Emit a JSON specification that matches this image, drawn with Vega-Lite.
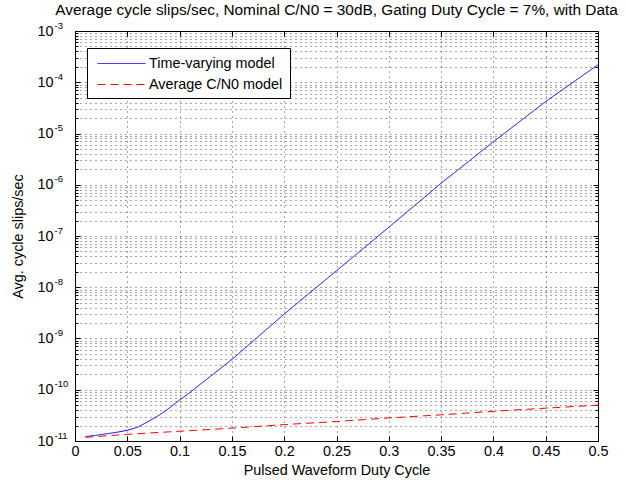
{
  "$schema": "https://vega.github.io/schema/vega-lite/v6.json",
  "width": 523,
  "height": 410,
  "autosize": {"type": "none"},
  "padding": {"left": 75, "top": 31, "right": 28, "bottom": 48},
  "background": "white",
  "config": {
    "font": "Liberation Sans",
    "view": {"stroke": null},
    "axis": {"domainColor": "black", "tickColor": "black", "labelColor": "black", "titleColor": "black", "titleFontWeight": "normal"}
  },
  "title": {"text": "Average cycle slips/sec, Nominal C/N0 = 30dB, Gating Duty Cycle = 7%, with Data", "fontSize": 15.4, "fontWeight": "normal", "color": "black", "anchor": "middle", "offset": 8, "dy": 6},
  "data": {
    "values": [
      {"series": "Time-varying model", "x": 0.01, "y": 1.22e-11},
      {"series": "Time-varying model", "x": 0.02, "y": 1.29e-11},
      {"series": "Time-varying model", "x": 0.03, "y": 1.38e-11},
      {"series": "Time-varying model", "x": 0.04, "y": 1.48e-11},
      {"series": "Time-varying model", "x": 0.05, "y": 1.62e-11},
      {"series": "Time-varying model", "x": 0.06, "y": 1.86e-11},
      {"series": "Time-varying model", "x": 0.07, "y": 2.4e-11},
      {"series": "Time-varying model", "x": 0.08, "y": 3.16e-11},
      {"series": "Time-varying model", "x": 0.09, "y": 4.37e-11},
      {"series": "Time-varying model", "x": 0.10, "y": 6.3e-11},
      {"series": "Time-varying model", "x": 0.11, "y": 8.9e-11},
      {"series": "Time-varying model", "x": 0.12, "y": 1.29e-10},
      {"series": "Time-varying model", "x": 0.13, "y": 1.86e-10},
      {"series": "Time-varying model", "x": 0.14, "y": 2.69e-10},
      {"series": "Time-varying model", "x": 0.15, "y": 3.9e-10},
      {"series": "Time-varying model", "x": 0.20, "y": 3.0e-9},
      {"series": "Time-varying model", "x": 0.25, "y": 2.1e-8},
      {"series": "Time-varying model", "x": 0.30, "y": 1.48e-7},
      {"series": "Time-varying model", "x": 0.35, "y": 1.07e-6},
      {"series": "Time-varying model", "x": 0.40, "y": 6.9e-6},
      {"series": "Time-varying model", "x": 0.45, "y": 4.2e-5},
      {"series": "Time-varying model", "x": 0.50, "y": 2.2e-4},
      {"series": "Average C/N0 model", "x": 0.01, "y": 1.18e-11},
      {"series": "Average C/N0 model", "x": 0.05, "y": 1.35e-11},
      {"series": "Average C/N0 model", "x": 0.10, "y": 1.55e-11},
      {"series": "Average C/N0 model", "x": 0.15, "y": 1.78e-11},
      {"series": "Average C/N0 model", "x": 0.20, "y": 2.09e-11},
      {"series": "Average C/N0 model", "x": 0.25, "y": 2.4e-11},
      {"series": "Average C/N0 model", "x": 0.30, "y": 2.82e-11},
      {"series": "Average C/N0 model", "x": 0.35, "y": 3.24e-11},
      {"series": "Average C/N0 model", "x": 0.40, "y": 3.8e-11},
      {"series": "Average C/N0 model", "x": 0.45, "y": 4.37e-11},
      {"series": "Average C/N0 model", "x": 0.50, "y": 5.01e-11}
    ]
  },
  "layer": [
    {
      "mark": {"type": "line", "strokeWidth": 1, "clip": true},
      "encoding": {
        "x": {
          "field": "x", "type": "quantitative",
          "scale": {"domain": [0, 0.5], "nice": false, "zero": false},
          "axis": {
            "orient": "bottom", "title": "Pulsed Waveform Duty Cycle", "titleFontSize": 14.4, "titlePadding": 6,
            "values": [0, 0.05, 0.1, 0.15, 0.2, 0.25, 0.3, 0.35, 0.4, 0.45, 0.5],
            "format": "~g", "labelFontSize": 14.4, "labelFlush": false, "labelPadding": 8,
            "tickSize": -5, "grid": true, "gridDash": [1, 4], "gridColor": "black", "gridOpacity": 0.7
          }
        },
        "y": {
          "field": "y", "type": "quantitative",
          "scale": {"type": "log", "domain": [1e-11, 1e-3], "nice": false},
          "axis": {
            "orient": "left", "title": "Avg. cycle slips/sec", "titleFontSize": 14.4, "titlePadding": 11,
            "values": [1e-11,2e-11,3e-11,4e-11,5e-11,6e-11,7e-11,8e-11,9e-11,
                       1e-10,2e-10,3e-10,4e-10,5e-10,6e-10,7e-10,8e-10,9e-10,
                       1e-9,2e-9,3e-9,4e-9,5e-9,6e-9,7e-9,8e-9,9e-9,
                       1e-8,2e-8,3e-8,4e-8,5e-8,6e-8,7e-8,8e-8,9e-8,
                       1e-7,2e-7,3e-7,4e-7,5e-7,6e-7,7e-7,8e-7,9e-7,
                       1e-6,2e-6,3e-6,4e-6,5e-6,6e-6,7e-6,8e-6,9e-6,
                       1e-5,2e-5,3e-5,4e-5,5e-5,6e-5,7e-5,8e-5,9e-5,
                       1e-4,2e-4,3e-4,4e-4,5e-4,6e-4,7e-4,8e-4,9e-4,1e-3],
            "labelExpr": "abs(log(datum.value)/LN10 - round(log(datum.value)/LN10)) < 0.001 ? '10' : ''",
            "labelFontSize": 14.4, "labelPadding": 27, "labelAlign": "right", "labelBaseline": "middle",
            "tickSize": {"condition": {"test": "abs(log(datum.value)/LN10 - round(log(datum.value)/LN10)) < 0.001", "value": -5}, "value": -3},
            "labelOverlap": false,
            "grid": true, "gridDash": [1, 4], "gridColor": "black", "gridOpacity": 0.7
          }
        },
        "color": {
          "field": "series", "type": "nominal",
          "scale": {"domain": ["Time-varying model", "Average C/N0 model"], "range": ["#0000ff", "#ff0000"]},
          "legend": {
            "title": null, "orient": "none", "legendX": 12, "legendY": 17,
            "fillColor": "white", "strokeColor": "black", "padding": 7,
            "symbolType": "M-3,0H3", "symbolSize": 256, "symbolStrokeWidth": 1, "symbolOffset": 19,
            "labelFontSize": 14.4, "labelOffset": 19, "rowPadding": 6, "labelColor": "black"
          }
        },
        "strokeDash": {
          "field": "series", "type": "nominal",
          "scale": {"domain": ["Time-varying model", "Average C/N0 model"], "range": [[1, 0], [8, 5]]},
          "legend": null
        }
      }
    },
    {
      "mark": {"type": "line", "opacity": 0},
      "encoding": {
        "x": {
          "field": "x", "type": "quantitative",
          "scale": {"domain": [0, 0.5], "nice": false, "zero": false},
          "axis": {"orient": "top", "title": null, "labels": false, "grid": false, "tickSize": -5,
                   "values": [0, 0.05, 0.1, 0.15, 0.2, 0.25, 0.3, 0.35, 0.4, 0.45, 0.5]}
        },
        "y": {
          "field": "y", "type": "quantitative",
          "scale": {"type": "log", "domain": [1e-11, 1e-3], "nice": false},
          "axis": {
            "orient": "right", "title": null, "labels": false, "grid": false,
            "values": [1e-11,2e-11,3e-11,4e-11,5e-11,6e-11,7e-11,8e-11,9e-11,
                       1e-10,2e-10,3e-10,4e-10,5e-10,6e-10,7e-10,8e-10,9e-10,
                       1e-9,2e-9,3e-9,4e-9,5e-9,6e-9,7e-9,8e-9,9e-9,
                       1e-8,2e-8,3e-8,4e-8,5e-8,6e-8,7e-8,8e-8,9e-8,
                       1e-7,2e-7,3e-7,4e-7,5e-7,6e-7,7e-7,8e-7,9e-7,
                       1e-6,2e-6,3e-6,4e-6,5e-6,6e-6,7e-6,8e-6,9e-6,
                       1e-5,2e-5,3e-5,4e-5,5e-5,6e-5,7e-5,8e-5,9e-5,
                       1e-4,2e-4,3e-4,4e-4,5e-4,6e-4,7e-4,8e-4,9e-4,1e-3],
            "tickSize": {"condition": {"test": "abs(log(datum.value)/LN10 - round(log(datum.value)/LN10)) < 0.001", "value": -5}, "value": -3}
          }
        }
      }
    },
    {
      "mark": {"type": "line", "opacity": 0},
      "encoding": {
        "x": {
          "field": "x", "type": "quantitative",
          "scale": {"domain": [0, 0.5], "nice": false, "zero": false},
          "axis": null
        },
        "y": {
          "field": "y", "type": "quantitative",
          "scale": {"type": "log", "domain": [1e-11, 1e-3], "nice": false},
          "axis": {
            "orient": "left", "title": null, "grid": false, "ticks": false, "domain": false,
            "values": [1e-11, 1e-10, 1e-9, 1e-8, 1e-7, 1e-6, 1e-5, 1e-4, 1e-3],
            "labelExpr": "'' + round(log(datum.value)/LN10)",
            "labelFontSize": 9.5, "labelAlign": "left", "labelBaseline": "middle", "labelPadding": 21, "labelOffset": -6,
            "labelOverlap": false
          }
        }
      }
    }
  ],
  "resolve": {"axis": {"x": "independent", "y": "independent"}}
}
